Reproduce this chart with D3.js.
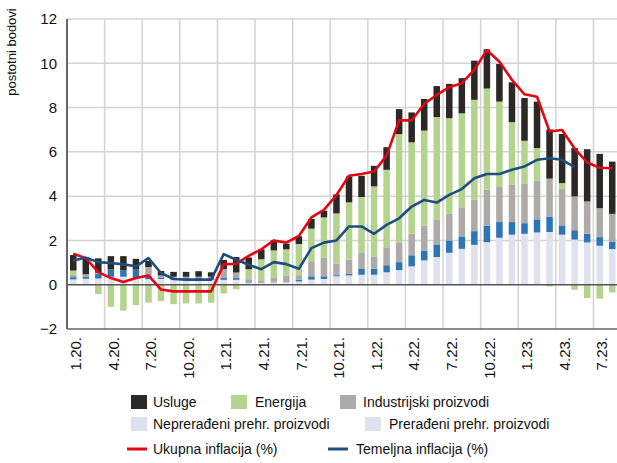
<!DOCTYPE html>
<html>
<head>
<meta charset="utf-8">
<script src="https://cdn.jsdelivr.net/npm/d3@7"></script>
<style>
html,body{margin:0;padding:0;background:#fff;}
svg{display:block;}
text{font-family:"Liberation Sans",Arial,sans-serif;fill:#111;}
</style>
</head>
<body>
<svg id="chart" width="617" height="463"></svg>
<script>
const categories = ["1.20.","2.20.","3.20.","4.20.","5.20.","6.20.","7.20.","8.20.","9.20.","10.20.","11.20.","12.20.",
"1.21.","2.21.","3.21.","4.21.","5.21.","6.21.","7.21.","8.21.","9.21.","10.21.","11.21.","12.21.",
"1.22.","2.22.","3.22.","4.22.","5.22.","6.22.","7.22.","8.22.","9.22.","10.22.","11.22.","12.22.",
"1.23.","2.23.","3.23.","4.23.","5.23.","6.23.","7.23.","8.23."];
const tickLabels = ["1.20.","4.20.","7.20.","10.20.","1.21.","4.21.","7.21.","10.21.","1.22.","4.22.","7.22.","10.22.","1.23.","4.23.","7.23."];
const yTicks = [-2,0,2,4,6,8,10,12];

const usluge = [0.70,0.78,0.65,0.60,0.64,0.48,0.27,0.20,0.22,0.22,0.25,0.20,
0.42,0.70,0.53,0.45,0.45,0.25,0.35,0.44,0.30,0.86,1.17,0.96,
0.93,1.02,1.13,1.35,1.43,1.40,1.55,1.59,1.77,1.77,1.70,1.80,
1.93,2.10,2.22,2.22,2.18,2.36,2.45,2.36];
const energija = [0.20,0.00,-0.42,-1.00,-1.17,-0.92,-0.81,-0.74,-0.88,-0.85,-0.85,-0.81,
-0.40,-0.20,0.45,0.95,1.25,1.20,1.41,1.47,1.83,2.26,2.59,2.50,
3.16,3.50,4.89,4.12,4.29,4.62,4.32,4.24,4.50,4.57,3.86,2.81,
1.95,1.46,-0.08,0.27,-0.23,-0.60,-0.63,-0.35];
const industrijski = [0.10,0.12,0.06,0.00,0.00,0.00,0.45,0.09,0.06,0.06,0.06,0.06,
0.40,0.25,0.10,0.10,0.20,0.25,0.20,0.68,0.83,0.53,0.63,0.75,
0.56,0.81,0.89,0.98,1.13,1.13,1.20,1.32,1.43,1.62,1.58,1.70,
1.77,1.76,1.73,1.64,1.53,1.46,1.31,1.25];
const neprerađeni = [0.10,0.08,0.20,0.33,0.29,0.37,0.10,0.07,0.08,0.08,0.08,0.08,
0.08,0.08,0.05,0.02,0.00,0.03,0.08,0.15,0.12,0.05,0.08,0.26,
0.27,0.32,0.36,0.50,0.44,0.57,0.56,0.56,0.62,0.75,0.71,0.57,
0.48,0.59,0.68,0.42,0.42,0.39,0.39,0.34];
const prerađeni = [0.24,0.27,0.28,0.36,0.36,0.32,0.25,0.26,0.22,0.22,0.22,0.22,
0.22,0.22,0.10,0.08,0.10,0.12,0.15,0.23,0.26,0.38,0.42,0.45,
0.45,0.56,0.66,0.83,1.10,1.25,1.44,1.62,1.80,1.92,2.12,2.26,
2.30,2.36,2.38,2.26,2.04,1.91,1.76,1.61];
const ukupna = [1.40,1.20,0.57,0.30,0.12,0.30,0.42,-0.22,-0.30,-0.30,-0.30,-0.30,
0.92,0.95,1.30,1.60,2.00,1.90,2.20,3.04,3.38,4.05,4.92,5.00,
5.11,5.83,7.42,7.42,8.17,8.57,8.92,9.10,9.70,10.60,10.07,9.25,
8.60,8.49,6.92,6.99,6.15,5.52,5.28,5.26];
const temeljna = [1.10,1.22,1.02,0.98,0.92,0.83,1.20,0.53,0.26,0.23,0.23,0.23,
1.38,1.13,0.90,0.70,1.02,0.93,0.72,1.65,1.90,2.00,2.63,2.63,
2.30,2.70,3.00,3.53,3.83,3.71,4.06,4.32,4.81,5.00,5.00,5.19,
5.34,5.64,5.71,5.64,5.31];

const seriesNames = ["Prerađeni prehr. proizvodi","Neprerađeni prehr. proizvodi","Industrijski proizvodi","Energija","Usluge"];
const seriesColors = ["#dfe1ee","#2e75b6","#aeaaa9","#b4d48e","#2b2825"];
const seriesData = [prerađeni, neprerađeni, industrijski, energija, usluge];

const svg = d3.select("#chart");
const mLeft = 67, mRight = 618.5, mTop = 19, mBottom = 329;

const x = d3.scaleBand().domain(categories).range([mLeft, mRight]).paddingInner(0.48).paddingOuter(0.24);
const step = x.step();
const y = d3.scaleLinear().domain([-2, 12]).range([mBottom, mTop]);

const rows = categories.map((c, i) => {
  const r = {cat: c};
  seriesNames.forEach((n, k) => r[n] = seriesData[k][i]);
  return r;
});
const stack = d3.stack().keys(seriesNames).offset(d3.stackOffsetDiverging);
const stacked = stack(rows);

// grid
const g = svg.append("g");
g.selectAll(".hg").data(yTicks.filter(v => v !== 0 && v !== -2)).enter().append("line")
  .attr("x1", mLeft).attr("x2", 617).attr("y1", d => y(d)).attr("y2", d => y(d))
  .attr("stroke", "#d3d3d3").attr("stroke-width", 1.5);
const vIdx = d3.range(3, categories.length, 3);
g.selectAll(".vg").data(vIdx).enter().append("line")
  .attr("x1", i => x(categories[i]) - step * x.paddingInner() / 2)
  .attr("x2", i => x(categories[i]) - step * x.paddingInner() / 2)
  .attr("y1", mTop).attr("y2", mBottom)
  .attr("stroke", "#d3d3d3").attr("stroke-width", 1.5);

// bars
const bars = svg.append("g");
stacked.forEach((s, k) => {
  bars.selectAll(".b" + k).data(s).enter().append("rect")
    .attr("x", d => x(d.data.cat))
    .attr("width", x.bandwidth())
    .attr("y", d => y(Math.max(d[0], d[1])))
    .attr("height", d => Math.abs(y(d[0]) - y(d[1])))
    .attr("fill", seriesColors[k]);
});

// zero line, bottom line, left axis
svg.append("line").attr("x1", mLeft).attr("x2", 617).attr("y1", y(0)).attr("y2", y(0))
  .attr("stroke", "#555").attr("stroke-width", 1.5);
svg.append("line").attr("x1", mLeft).attr("x2", 617).attr("y1", y(-2)).attr("y2", y(-2))
  .attr("stroke", "#666").attr("stroke-width", 1.5);
svg.append("line").attr("x1", mLeft).attr("x2", mLeft).attr("y1", mTop).attr("y2", mBottom)
  .attr("stroke", "#666").attr("stroke-width", 2);

// lines
const lineGen = d3.line().x((d, i) => x(categories[i]) + x.bandwidth() / 2).y(d => y(d));
svg.append("path").datum(ukupna).attr("d", lineGen).attr("fill", "none")
  .attr("stroke", "#e30613").attr("stroke-width", 2.6).attr("stroke-linejoin", "round");
svg.append("path").datum(temeljna).attr("d", lineGen).attr("fill", "none")
  .attr("stroke", "#1f4e7e").attr("stroke-width", 2.6).attr("stroke-linejoin", "round");

// y tick labels
svg.selectAll(".yl").data(yTicks).enter().append("text")
  .attr("x", 57).attr("y", d => y(d)).attr("dy", "0.35em")
  .attr("text-anchor", "end").attr("font-size", 15)
  .text(d => d < 0 ? "\u2212" + Math.abs(d) : d);

// y title
svg.append("text").attr("transform", "translate(16,52) rotate(-90)")
  .attr("text-anchor", "middle").attr("font-size", 13).text("postotni bodovi");

// x tick labels
svg.selectAll(".xl").data(tickLabels).enter().append("text")
  .attr("transform", d => `translate(${x(d) + x.bandwidth() / 2 + 2.5},337) rotate(-90)`)
  .attr("dy", "0.35em").attr("text-anchor", "end").attr("font-size", 15)
  .text(d => d);

// legend
const legendItems = [
  {name: "Usluge", color: "#2b2825", type: "rect", sx: 131, tx: 153, y: 402},
  {name: "Energija", color: "#b4d48e", type: "rect", sx: 231, tx: 255, y: 402},
  {name: "Industrijski proizvodi", color: "#aeaaa9", type: "rect", sx: 340, tx: 363, y: 402},
  {name: "Neprerađeni prehr. proizvodi", color: "#dfe1ee", type: "rect", sx: 131, tx: 153, y: 424},
  {name: "Prerađeni prehr. proizvodi", color: "#dfe1ee", type: "rect", sx: 365, tx: 389, y: 424},
  {name: "Ukupna inflacija (%)", color: "#e30613", type: "line", sx: 127, tx: 153, y: 449},
  {name: "Temeljna inflacija (%)", color: "#1f4e7e", type: "line", sx: 328, tx: 356, y: 449}
];
const lg = svg.append("g");
legendItems.forEach(it => {
  if (it.type === "rect") {
    lg.append("rect").attr("x", it.sx).attr("y", it.y - 7).attr("width", 16).attr("height", 14).attr("fill", it.color);
  } else {
    lg.append("line").attr("x1", it.sx).attr("x2", it.sx + 20).attr("y1", it.y).attr("y2", it.y)
      .attr("stroke", it.color).attr("stroke-width", 3);
  }
  lg.append("text").attr("x", it.tx).attr("y", it.y).attr("dy", "0.36em").attr("font-size", 14).text(it.name);
});
</script>
</body>
</html>
